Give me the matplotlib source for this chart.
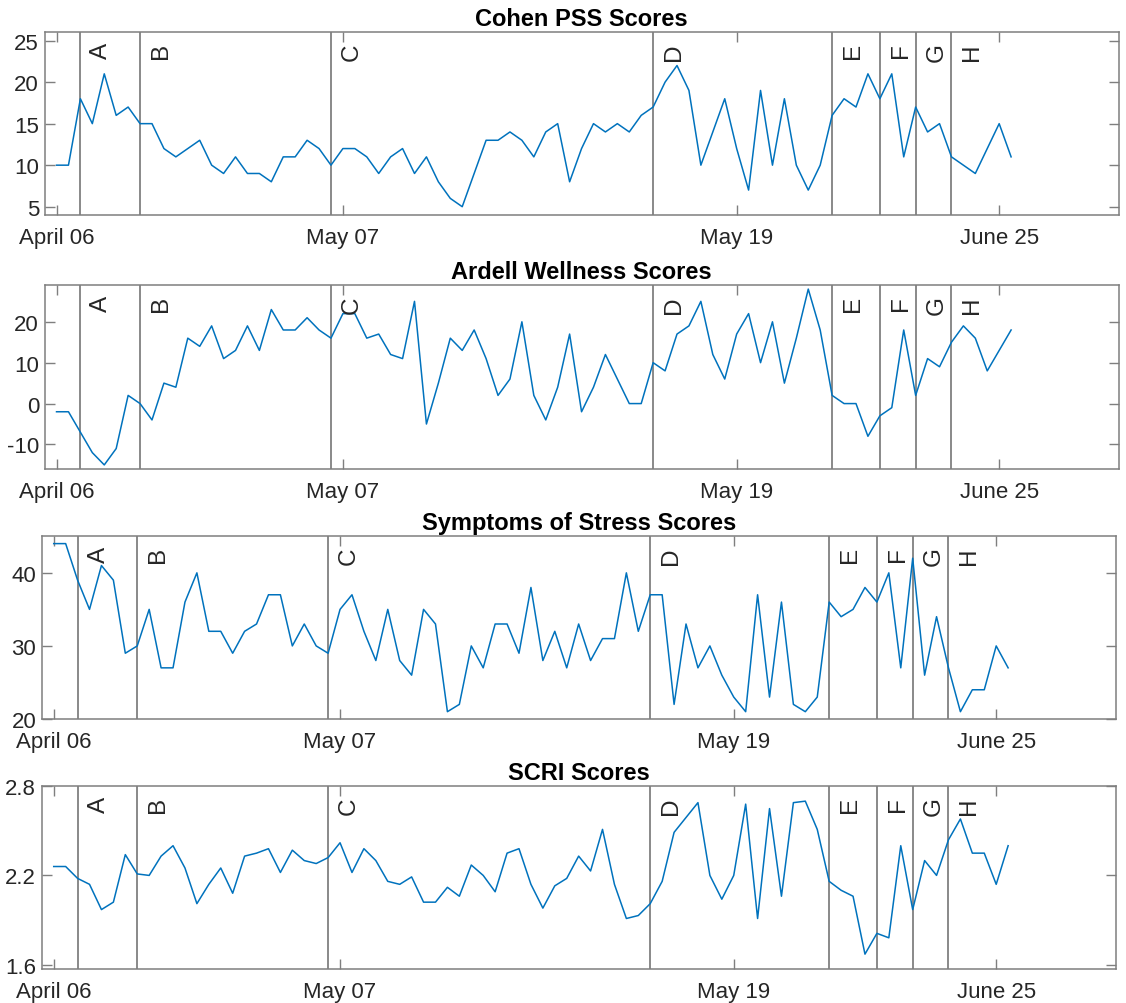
import matplotlib
matplotlib.use("Agg")
import matplotlib.pyplot as plt
import matplotlib.transforms as mtransforms

plt.rcParams['font.family'] = ['Liberation Sans', 'DejaVu Sans']

# ---- data (one value per session, 81 sessions) ----
pss = [10, 10, 18, 15, 21, 16, 17, 15, 15, 12,
       11, 12, 13, 10, 9, 11, 9, 9, 8, 11,
       11, 13, 12, 10, 12, 12, 11, 9, 11, 12,
       9, 11, 8, 6, 5, 9, 13, 13, 14, 13,
       11, 14, 15, 8, 12, 15, 14, 15, 14, 16,
       17, 20, 22, 19, 10, 14, 18, 12, 7, 19,
       10, 18, 10, 7, 10, 16, 18, 17, 21, 18,
       21, 11, 17, 14, 15, 11, 10, 9, 12, 15, 11]

ardell = [-2, -2, -7, -12, -15, -11, 2, 0, -4, 5,
          4, 16, 14, 19, 11, 13, 19, 13, 23, 18,
          18, 21, 18, 16, 22, 22, 16, 17, 12, 11,
          25, -5, 5, 16, 13, 18, 11, 2, 6, 20,
          2, -4, 4, 17, -2, 4, 12, 6, 0, 0,
          10, 8, 17, 19, 25, 12, 6, 17, 22, 10,
          20, 5, 16, 28, 18, 2, 0, 0, -8, -3,
          -1, 18, 2, 11, 9, 15, 19, 16, 8, 13, 18]

stress = [44, 44, 39, 35, 41, 39, 29, 30, 35, 27,
          27, 36, 40, 32, 32, 29, 32, 33, 37, 37,
          30, 33, 30, 29, 35, 37, 32, 28, 35, 28,
          26, 35, 33, 21, 22, 30, 27, 33, 33, 29,
          38, 28, 32, 27, 33, 28, 31, 31, 40, 32,
          37, 37, 22, 33, 27, 30, 26, 23, 21, 37,
          23, 36, 22, 21, 23, 36, 34, 35, 38, 36,
          40, 27, 42, 26, 34, 27, 21, 24, 24, 30, 27]

scri = [2.26, 2.26, 2.18, 2.14, 1.97, 2.02, 2.34, 2.21, 2.20, 2.33,
        2.40, 2.25, 2.01, 2.14, 2.25, 2.08, 2.33, 2.35, 2.38, 2.22,
        2.37, 2.30, 2.28, 2.32, 2.42, 2.22, 2.38, 2.30, 2.16, 2.14,
        2.19, 2.02, 2.02, 2.12, 2.06, 2.27, 2.20, 2.09, 2.35, 2.38,
        2.14, 1.98, 2.13, 2.18, 2.33, 2.23, 2.51, 2.14, 1.91, 1.93,
        2.01, 2.16, 2.49, 2.59, 2.69, 2.20, 2.04, 2.20, 2.68, 1.91,
        2.65, 2.06, 2.69, 2.70, 2.51, 2.16, 2.10, 2.06, 1.67, 1.81,
        1.78, 2.40, 1.97, 2.30, 2.20, 2.44, 2.58, 2.35, 2.35, 2.14, 2.40]

titles = ["Cohen PSS Scores", "Ardell Wellness Scores",
          "Symptoms of Stress Scores", "SCRI Scores"]
series = [pss, ardell, stress, scri]
ylims = [(4, 26), (-16, 29), (20, 45), (1.57, 2.8)]
yticks = [[5, 10, 15, 20, 25], [-10, 0, 10, 20], [20, 30, 40], [1.6, 2.2, 2.8]]
ytick_labels = [["5", "10", "15", "20", "25"], ["-10", "0", "10", "20"],
                ["20", "30", "40"], ["1.6", "2.2", "2.8"]]

xtick_pos = [0, 24, 57, 79]
xtick_labels = ["April 06", "May 07", "May 19", "June 25"]

event_pos = [2, 7, 23, 50, 65, 69, 72, 75]
event_labels = ["A", "B", "C", "D", "E", "F", "G", "H"]

# ---- layout (figure fractions) ----
W, H = 1126, 1004
boxes = [  # left, top, right, bottom in pixels
    (44.6, 33.3, 1118.5, 216.0),
    (44.6, 286.0, 1118.5, 470.0),
    (41.8, 537.3, 1115.5, 720.0),
    (41.8, 787.3, 1115.5, 970.0),
]

fig = plt.figure(figsize=(W / 100, H / 100), dpi=100)

line_color = '#0072BD'
frame_color = '#7f7f7f'
text_color = '#262626'
vline_color = '#808080'

for k in range(4):
    l, t, r, b = boxes[k]
    ax = fig.add_axes([l / W, 1 - b / H, (r - l) / W, (b - t) / H])
    y = series[k]
    x = list(range(len(y)))
    ax.plot(x, y, color=line_color, linewidth=1.1, zorder=3)
    for p in event_pos:
        ax.axvline(p, color=vline_color, linewidth=1.3, zorder=2)
    trans = mtransforms.blended_transform_factory(ax.transData, ax.transAxes)
    for p, lab in zip(event_pos, event_labels):
        ax.text(p + 1.75, 0.945, lab, transform=trans, rotation=90,
                ha='center', va='top', fontsize=17.5, color=text_color, zorder=4)
    ax.set_xlim(-1, 89)
    ax.set_ylim(*ylims[k])
    ax.set_xticks(xtick_pos)
    ax.set_xticklabels(xtick_labels)
    ax.set_yticks(yticks[k])
    ax.set_yticklabels(ytick_labels[k])
    ax.tick_params(axis='both', which='both', direction='in', length=7,
                   width=1.0, color=frame_color, labelcolor=text_color,
                   labelsize=16, top=True, right=True, pad=4)
    ax.tick_params(axis='x', pad=8.5)
    for s in ax.spines.values():
        s.set_color(frame_color)
        s.set_linewidth(1.1)
    ax.set_title(titles[k], fontsize=17, fontweight='bold', color='black', pad=5)

fig.savefig("out.png", dpi=100, facecolor='white')
